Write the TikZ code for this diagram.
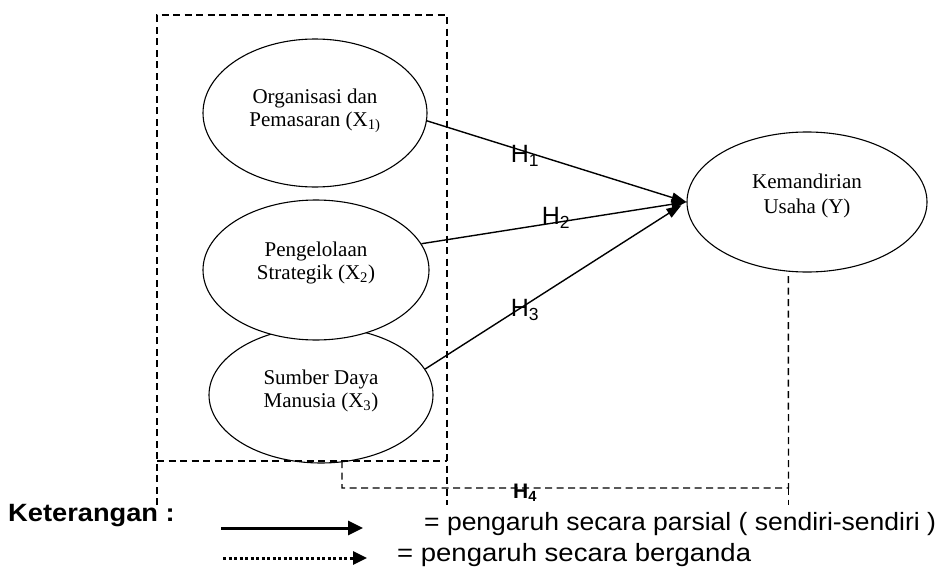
\documentclass[tikz,border=0pt]{standalone}
\usepackage{fontspec}
\setmainfont{Liberation Serif}
\setsansfont{Liberation Sans}
\usetikzlibrary{arrows.meta,shapes.geometric}
% horizontally widened text
\newcommand{\widen}[2][1.08]{\scalebox{#1}[1]{#2}}

\tikzset{
  var/.style={draw, ellipse, line width=1.1pt, fill=white, inner sep=0pt},
  vartext/.style={align=center, inner sep=0pt, font=\fontsize{21}{22.5}\selectfont},
  path/.style={-{Triangle[length=15pt,width=10pt]}, line width=1.4pt},
  grp/.style={dash pattern=on 7pt off 4.5pt, line width=1.4pt},
  hlab/.style={inner sep=0pt, font=\sffamily\fontsize{25}{28}\selectfont},
  legtext/.style={anchor=base west, inner sep=0pt, font=\sffamily\fontsize{25}{28}\selectfont},
  legsolid/.style={line width=3pt, -{Triangle[length=15pt,width=14pt]}},
  legdot/.style={line width=3pt, dash pattern=on 3pt off 2.5pt, -{Triangle[length=14pt,width=13pt]}},
}

\begin{document}
\begin{tikzpicture}[x=1pt, y=-1pt]
\useasboundingbox (0,0) rectangle (942,570);

% latent variables
\node[var, minimum width=224pt, minimum height=148pt] (e1) at (315,113) {};
\node[var, minimum width=224pt, minimum height=136pt] (e3) at (321,395) {};
\node[var, minimum width=226pt, minimum height=140pt] (e2) at (316,270) {};
\node[var, minimum width=240pt, minimum height=140pt] (e4) at (807,202) {};

\node[vartext] (t1) at (315,111) {Organisasi dan\\Pemasaran (X\textsubscript{1)}};
\node[vartext] (t2) at (316,263) {Pengelolaan\\Strategik (X\textsubscript{2})};
\node[vartext] (t3) at (321,391) {Sumber Daya\\Manusia (X\textsubscript{3})};
\node[vartext, font=\fontsize{21}{25}\selectfont] (t4) at (807,196) {Kemandirian\\Usaha (Y)};

% group frame around the independent variables
\coordinate (tl) at (157,15);
\coordinate (tr) at (447,15);
\coordinate (bl) at (157,505);
\coordinate (br) at (447,505);
\coordinate (ml) at (157,461);
\coordinate (mr) at (447,461);
\draw[grp] (bl) -- (tl) -- (tr) -- (br);
\draw[grp] (ml) -- (mr);

% simultaneous effect H4
\coordinate (j3) at (342,461);
\coordinate (k4) at (788.5,488);
\draw[grp] (j3) |- (k4) -- (e4.-105);
\draw[grp] (k4) -- ++(0,17);

% partial effects
\draw[path] (e1.-4) -- (e4.west);
\draw[path] (e2.14) -- (e4.west);
\draw[path, shorten >=6pt] (e3.14) -- (e4.west);

\node[hlab] (h1) at (525,156) {H\textsubscript{1}};
\node[hlab] (h2) at (556,218) {H\textsubscript{2}};
\node[hlab] (h3) at (525,310) {H\textsubscript{3}};
\node[hlab, font=\sffamily\bfseries\fontsize{21}{24}\selectfont] (h4) at (525,493) {H\textsubscript{4}};

% legend
\node[legtext, font=\sffamily\bfseries\fontsize{25}{28}\selectfont] (ket) at (8,521) {\widen[1.09]{Keterangan :}};
\coordinate (ls1) at (221,528);
\coordinate (ls2) at (363,528);
\coordinate (ld1) at (223,558);
\coordinate (ld2) at (367,558);
\draw[legsolid] (ls1) -- (ls2);
\draw[legdot] (ld1) -- (ld2);
\node[legtext] (l1) at (424,530) {\widen[1.06]{= pengaruh secara parsial ( sendiri-sendiri )}};
\node[legtext] (l2) at (397,561) {\widen[1.1]{= pengaruh secara berganda}};
\end{tikzpicture}
\end{document}
